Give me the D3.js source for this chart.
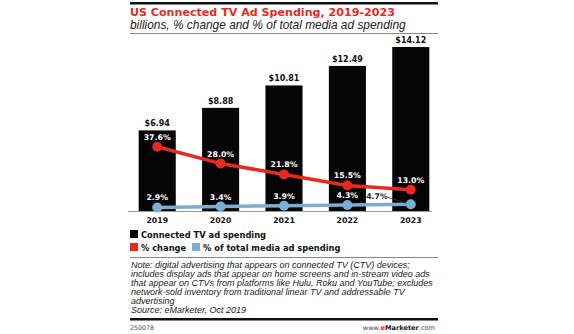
<!DOCTYPE html>
<html>
<head>
<meta charset="utf-8">
<script src="https://cdn.jsdelivr.net/npm/d3@7"></script>
<style>
	body { margin: 0; background: #fff; }
	text { font-family: "DejaVu Sans", Verdana, sans-serif; }
	.ital { font-family: "Liberation Sans", Arial, sans-serif; font-style: italic; }
</style>
</head>
<body>
<script>
//chart data
var years = ["2019", "2020", "2021", "2022", "2023"];
var spending = [6.94, 8.88, 10.81, 12.49, 14.12];	//billions
var pctChange = [37.6, 28.0, 21.8, 15.5, 13.0];
var pctTotal = [2.9, 3.4, 3.9, 4.3, 4.7];
var noteLines = [
	"Note: digital advertising that appears on connected TV (CTV) devices;",
	"includes display ads that appear on home screens and in-stream video ads",
	"that appear on CTVs from platforms like Hulu, Roku and YouTube; excludes",
	"network-sold inventory from traditional linear TV and addressable TV",
	"advertising",
	"Source: eMarketer, Oct 2019"
];

window.onload = setChart();

function setChart(){

	var width = 574,
		height = 334;

	var svg = d3.select("body")
		.append("svg")
		.attr("width", width)
		.attr("height", height);

	var left = 130, right = 438;
	var red = "#e8291f", blue = "#7aaed2";

	//header
	svg.append("rect")
		.attr("x", left).attr("y", 2)
		.attr("width", right - left).attr("height", 2.5)
		.attr("fill", "#111");

	svg.append("text")
		.attr("x", left).attr("y", 15.5)
		.attr("font-size", 11.1)
		.attr("font-weight", "bold")
		.attr("fill", red)
		.text("US Connected TV Ad Spending, 2019-2023");

	svg.append("text")
		.attr("class", "ital")
		.attr("x", left).attr("y", 29)
		.attr("font-size", 11.9)
		.attr("fill", "#222")
		.text("billions, % change and % of total media ad spending");

	svg.append("line")
		.attr("x1", left).attr("x2", right)
		.attr("y1", 33.5).attr("y2", 33.5)
		.attr("stroke", "#888").attr("stroke-width", 1);

	//scales
	var x = d3.scaleBand()
		.domain(years)
		.range([126, 442])
		.paddingInner(0.415)
		.paddingOuter(0.2);

	var y = d3.scaleLinear()
		.domain([0, 14.12])
		.range([211, 47]);

	var yPct = d3.scaleLinear()
		.domain([0, 40])
		.range([212.5, 142.6]);

	//bars
	svg.selectAll(".bar")
		.data(spending)
		.enter()
		.append("rect")
		.attr("class", "bar")
		.attr("x", function(d, i){ return x(years[i]); })
		.attr("y", function(d){ return y(d); })
		.attr("width", x.bandwidth())
		.attr("height", function(d){ return y(0) - y(d); })
		.attr("fill", "#050505");

	svg.selectAll(".barLabel")
		.data(spending)
		.enter()
		.append("text")
		.attr("class", "barLabel")
		.attr("x", function(d, i){ return x(years[i]) + x.bandwidth() / 2; })
		.attr("y", function(d){ return y(d) - 4; })
		.attr("text-anchor", "middle")
		.attr("font-size", 8)
		.attr("font-weight", "bold")
		.attr("fill", "#111")
		.text(function(d){ return "$" + d.toFixed(2); });

	//baseline and year labels
	svg.append("line")
		.attr("x1", 128).attr("x2", 432)
		.attr("y1", 211.5).attr("y2", 211.5)
		.attr("stroke", "#999").attr("stroke-width", 1);

	var xAxis = d3.axisBottom(x).tickSize(0).tickPadding(0);
	var axisG = svg.append("g")
		.attr("transform", "translate(0,217)")
		.call(xAxis);
	axisG.select(".domain").remove();
	axisG.selectAll("text")
		.attr("dy", "0.71em")
		.attr("font-size", 7.8)
		.attr("font-weight", "bold")
		.attr("font-family", "DejaVu Sans, Verdana, sans-serif")
		.attr("fill", "#111");

	//percentage lines
	var cx = function(d, i){ return x(years[i]) + x.bandwidth() / 2; };

	var line = d3.line()
		.x(cx)
		.y(function(d){ return yPct(d); });

	var series = [
		{values: pctChange, color: red},
		{values: pctTotal, color: blue}
	];

	series.forEach(function(s){
		svg.append("path")
			.datum(s.values)
			.attr("d", line)
			.attr("fill", "none")
			.attr("stroke", s.color)
			.attr("stroke-width", 3.5);

		svg.selectAll(null)
			.data(s.values)
			.enter()
			.append("circle")
			.attr("cx", cx)
			.attr("cy", function(d){ return yPct(d); })
			.attr("r", 5)
			.attr("fill", s.color);
	});

	//labels for % change
	svg.selectAll(".redLabel")
		.data(pctChange)
		.enter()
		.append("text")
		.attr("x", cx)
		.attr("y", function(d){ return yPct(d) - 7; })
		.attr("text-anchor", "middle")
		.attr("font-size", 7.8)
		.attr("font-weight", "bold")
		.attr("fill", "#fff")
		.text(function(d){ return d.toFixed(1) + "%"; });

	//labels for % of total; the last one sits left with a leader line
	svg.selectAll(".blueLabel")
		.data(pctTotal)
		.enter()
		.append("text")
		.attr("x", function(d, i){ return i == 4 ? cx(d, i) - 23 : cx(d, i); })
		.attr("y", function(d, i){ return i == 4 ? yPct(d) - 5 : yPct(d) - 7; })
		.attr("text-anchor", function(d, i){ return i == 4 ? "end" : "middle"; })
		.attr("font-size", 7.8)
		.attr("font-weight", "bold")
		.attr("fill", function(d, i){ return i == 4 ? "#222" : "#fff"; })
		.text(function(d){ return d.toFixed(1) + "%"; });

	var last = pctTotal.length - 1;
	svg.append("line")
		.attr("x1", cx(pctTotal[last], last) - 23)
		.attr("y1", yPct(pctTotal[last]) - 7)
		.attr("x2", cx(pctTotal[last], last) - 4)
		.attr("y2", yPct(pctTotal[last]) - 1)
		.attr("stroke", "#333").attr("stroke-width", 0.8);

	//legend
	var legend = [
		{label: "Connected TV ad spending", color: "#050505", x: 130, y: 230},
		{label: "% change", color: red, x: 130, y: 243},
		{label: "% of total media ad spending", color: blue, x: 192, y: 243}
	];

	var lg = svg.selectAll(".legend")
		.data(legend)
		.enter()
		.append("g")
		.attr("transform", function(d){ return "translate(" + d.x + "," + d.y + ")"; });

	lg.append("rect")
		.attr("width", 8).attr("height", 8)
		.attr("fill", function(d){ return d.color; });

	lg.append("text")
		.attr("x", 11).attr("y", 7.5)
		.attr("font-size", 8.3)
		.attr("font-weight", "bold")
		.attr("fill", "#111")
		.text(function(d){ return d.label; });

	//note and source
	svg.append("line")
		.attr("x1", left).attr("x2", right)
		.attr("y1", 257.5).attr("y2", 257.5)
		.attr("stroke", "#888").attr("stroke-width", 1);

	svg.selectAll(".note")
		.data(noteLines)
		.enter()
		.append("text")
		.attr("class", "ital")
		.attr("x", left + 1)
		.attr("y", function(d, i){ return 268 + i * 9; })
		.attr("font-size", 9)
		.attr("fill", "#222")
		.text(function(d){ return d; });

	svg.append("rect")
		.attr("x", left).attr("y", 318)
		.attr("width", right - left).attr("height", 2.5)
		.attr("fill", "#111");

	svg.append("text")
		.attr("x", left).attr("y", 329.5)
		.attr("font-size", 6.3)
		.attr("fill", "#444")
		.text("250078");

	var site = svg.append("text")
		.attr("x", 435).attr("y", 329.5)
		.attr("text-anchor", "end")
		.attr("font-size", 6.6)
		.attr("fill", "#444");
	site.append("tspan").text("www.");
	site.append("tspan").attr("fill", red).attr("font-weight", "bold").text("e");
	site.append("tspan").attr("fill", "#222").attr("font-weight", "bold").text("Marketer");
	site.append("tspan").text(".com");
};
</script>
</body>
</html>
